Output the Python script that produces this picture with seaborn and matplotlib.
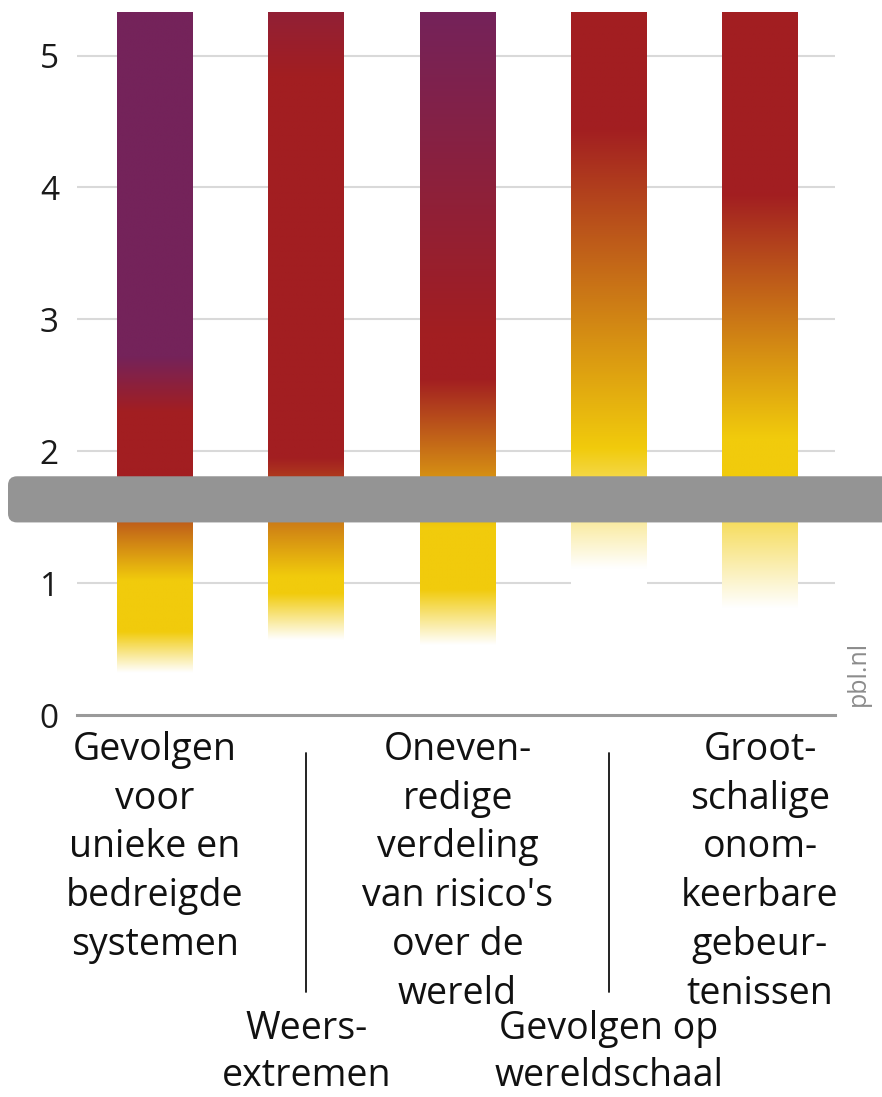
import numpy as np
import pandas as pd
import matplotlib
matplotlib.use("Agg")
import matplotlib.pyplot as plt
import matplotlib.transforms as mtransforms
from matplotlib.patches import FancyBboxPatch
from matplotlib.colors import to_rgb
import seaborn as sns

# ---------------- data ----------------
categories = [
    "Gevolgen voor unieke en bedreigde systemen",
    "Weersextremen",
    "Onevenredige verdeling van risico's over de wereld",
    "Gevolgen op wereldschaal",
    "Grootschalige onomkeerbare gebeurtenissen",
]
label_lines = [
    "Gevolgen\nvoor\nunieke en\nbedreigde\nsystemen",
    "Weers-\nextremen",
    "Oneven-\nredige\nverdeling\nvan risico's\nover de\nwereld",
    "Gevolgen op\nwereldschaal",
    "Groot-\nschalige\nonom-\nkeerbare\ngebeur-\ntenissen",
]
label_row = [0, 1, 0, 1, 0]          # 0 = under axis, 1 = lower row
bar_top = 5.33                        # warming (°C) at top of each ember
yticks = [0, 1, 2, 3, 4, 5]

# ember transitions: level (°C) and colour at that level
unieke_levels = [0.32, 0.63, 1.02, 1.72, 2.30, 2.72]
unieke_colors = ["white", "yellow", "yellow", "red", "red", "purple"]
weers_levels = [0.57, 0.92, 1.05, 1.95, 4.85, 6.2]
weers_colors = ["white", "yellow", "yellow", "red", "red", "purple"]
oneven_levels = [0.53, 0.95, 1.42, 2.55, 2.90, 5.33]
oneven_colors = ["white", "yellow", "yellow", "red", "red", "purple"]
wereld_levels = [1.11, 2.02, 4.45]
wereld_colors = ["white", "yellow", "red"]
groot_levels = [0.81, 1.80, 2.10, 3.95]
groot_colors = ["white", "yellow", "yellow", "red"]

ember_levels = [unieke_levels, weers_levels, oneven_levels, wereld_levels, groot_levels]
ember_colors = [unieke_colors, weers_colors, oneven_colors, wereld_colors, groot_colors]

band_low, band_high = 1.46, 1.81     # grey band

palette = {
    "white": "#FFFFFF",
    "yellow": "#F1CB0C",
    "red": "#A21E21",
    "purple": "#74235A",
}

# ---------------- figure ----------------
sns.set_theme(style="white")
plt.rcParams["font.family"] = ["Open Sans", "DejaVu Sans"]

W, H = 882, 1097
fig = plt.figure(figsize=(W / 100, H / 100), dpi=100)
ax_left, ax_right, ax_bot, ax_top = 77, 835, 715, 12
ax = fig.add_axes([ax_left / W, 1 - ax_bot / H, (ax_right - ax_left) / W, (ax_bot - ax_top) / H])

df = pd.DataFrame({"cat": categories, "top": [bar_top] * len(categories)})
sns.barplot(data=df, x="cat", y="top", ax=ax, width=0.5, color="white",
            saturation=1, linewidth=0, zorder=2)

ngrid = 800
yy = np.linspace(0, bar_top, ngrid)
for patch, lv, cl in zip(ax.patches, ember_levels, ember_colors):
    rgb = np.array([to_rgb(palette[c]) for c in cl])
    col = np.stack([np.interp(yy, lv, rgb[:, k]) for k in range(3)], axis=-1)
    img = np.repeat(col[:, None, :], 4, axis=1)
    x0 = patch.get_x()
    w = patch.get_width()
    im = ax.imshow(img, extent=[x0, x0 + w, 0, bar_top], origin="lower",
                   aspect="auto", interpolation="bilinear", zorder=3)
    im.set_clip_path(patch)
    patch.set_facecolor("white")

ax.set_xlim(-0.516, 4.496)
ax.set_ylim(0, bar_top)
ax.set_yticks(yticks)
ax.set_yticklabels([str(t) for t in yticks], fontsize=24, color="#1a1a1a")
ax.tick_params(axis="y", length=0, pad=13)
ax.set_xticks([])
ax.set_xlabel("")
ax.set_ylabel("")
ax.set_axisbelow(True)
for t in yticks[1:]:
    ax.axhline(t, color="#d9d9d9", lw=1.5, zorder=1)
for s in ["top", "right", "left"]:
    ax.spines[s].set_visible(False)
ax.spines["bottom"].set_color("#9a9a9a")
ax.spines["bottom"].set_linewidth(2.2)
ax.spines["bottom"].set_zorder(6)
ax.grid(False)

# grey band across the figure
px_per_unit = (ax_bot - ax_top) / bar_top
r_px = 9
blend = mtransforms.blended_transform_factory(fig.transFigure, ax.transData)
band = FancyBboxPatch((8 / W, band_low), 1.1, band_high - band_low,
                      boxstyle=f"round,pad=0,rounding_size={r_px / W}",
                      mutation_aspect=(r_px / px_per_unit) / (r_px / W),
                      transform=blend, facecolor="#949494", edgecolor="none",
                      clip_on=False, zorder=10)
fig.add_artist(band)

# category labels
xtr = ax.get_xaxis_transform()
def yax(ypix):
    return (ax_bot - ypix) / (ax_bot - ax_top)

row_top = [731, 1010]
for i, (txt, row) in enumerate(zip(label_lines, label_row)):
    ax.text(i, yax(row_top[row]), txt, transform=xtr, ha="center", va="top",
            multialignment="center", fontsize=27, color="#111111",
            linespacing=1.30 if row == 1 else 1.37, clip_on=False)
    if row == 1:
        ax.plot([i, i], [yax(753), yax(992)], transform=xtr, color="#111111",
                lw=1.3, clip_on=False)

fig.text(858 / W, 1 - 706 / H, "pbl.nl", rotation=90, ha="center", va="bottom",
         fontsize=18, color="#8c8c8c")

fig.savefig("out.png", dpi=100)
